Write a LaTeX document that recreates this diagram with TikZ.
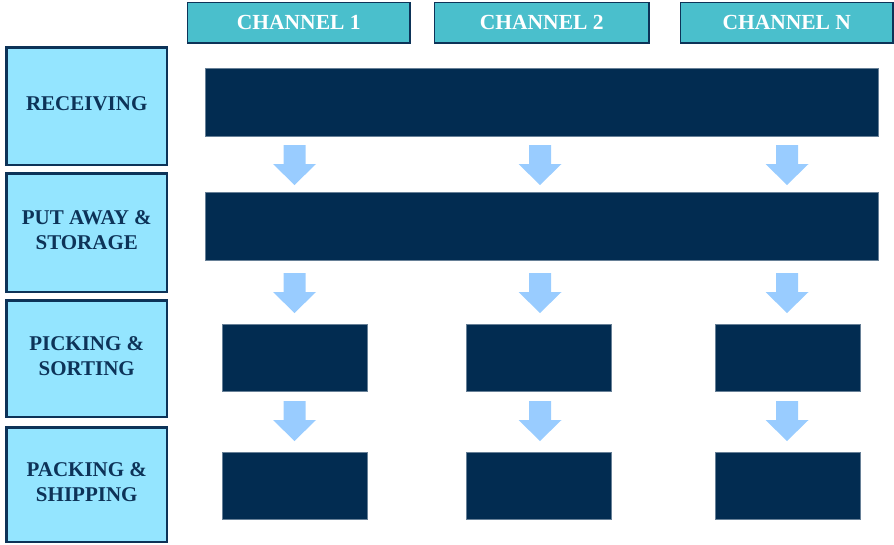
\documentclass[tikz,border=0pt]{standalone}
\usepackage{fontspec}
\setmainfont{Liberation Serif}
\definecolor{navy}{HTML}{022C51}
\definecolor{edgenavy}{HTML}{0D3358}
\definecolor{teal}{HTML}{4ABFCC}
\definecolor{stagefill}{HTML}{94E5FF}
\definecolor{flowblue}{HTML}{99CCFF}
\begin{document}
\begin{tikzpicture}[x=1pt,y=-1pt,
  channelbox/.style={draw=edgenavy,line width=1.5pt,fill=teal,text=white,
    font=\bfseries\fontsize{21.5}{24}\selectfont,anchor=north west,inner sep=0pt},
  stagebox/.style={draw=edgenavy,line width=2.5pt,fill=stagefill,text=edgenavy,
    font=\bfseries\fontsize{21}{25}\selectfont,align=center,anchor=north west,
    minimum width=160.5pt,inner sep=0pt},
  stagetext/.style={text=edgenavy,font=\bfseries\fontsize{21}{25}\selectfont,
    align=center,inner sep=0pt,yshift=3pt},
  bar/.style={fill=navy,draw=navy!60!white,line width=0.5pt,anchor=north west,inner sep=0pt},
  flow/.style={fill=flowblue}]
\useasboundingbox (0,0) rectangle (894,544);
% channel headers
\node[channelbox,minimum width=222.5pt,minimum height=40.5pt] (ch1) at (186.75,1.75) {CHANNEL 1};
\node[channelbox,minimum width=214.5pt,minimum height=40.5pt] (ch2) at (433.75,1.75) {CHANNEL 2};
\node[channelbox,minimum width=212.5pt,minimum height=40.5pt] (chn) at (679.75,1.75) {CHANNEL N};
% process stages
\node[stagebox,minimum height=117.5pt] (recv) at (5.25,46.25) {};
\node[stagebox,minimum height=118.5pt] (store) at (5.25,172.25) {};
\node[stagebox,minimum height=116.5pt] (pick) at (5.25,299.25) {};
\node[stagebox,minimum height=114.5pt] (ship) at (5.25,426.25) {};
\node[stagetext] (recvlabel) at (recv.center) {RECEIVING};
\node[stagetext] (storelabel) at (store.center) {PUT AWAY \&\\STORAGE};
\node[stagetext] (picklabel) at (pick.center) {PICKING \&\\SORTING};
\node[stagetext] (shiplabel) at (ship.center) {PACKING \&\\SHIPPING};
% shared activity bars
\node[bar,minimum width=673pt,minimum height=68pt] (recvbar) at (204.5,67.5) {};
\node[bar,minimum width=673pt,minimum height=68pt] (storebar) at (204.5,191.5) {};
% per-channel activity blocks
\foreach \x/\c in {222/1,466/2,715/3}{
  \node[bar,minimum width=145pt,minimum height=67pt] (pick\c) at (\x,324) {};
  \node[bar,minimum width=145pt,minimum height=67pt] (ship\c) at (\x,452) {};
}
% down arrows between stages
\foreach \cx in {294.5,540,787}{
  \foreach \ty in {145,273,401}{
    \fill[flow] (\cx-11,\ty) -- (\cx+11,\ty) -- (\cx+11,\ty+19) -- (\cx+21.5,\ty+19)
      -- (\cx,\ty+40) -- (\cx-21.5,\ty+19) -- (\cx-11,\ty+19) -- cycle;
  }
}
\end{tikzpicture}
\end{document}
